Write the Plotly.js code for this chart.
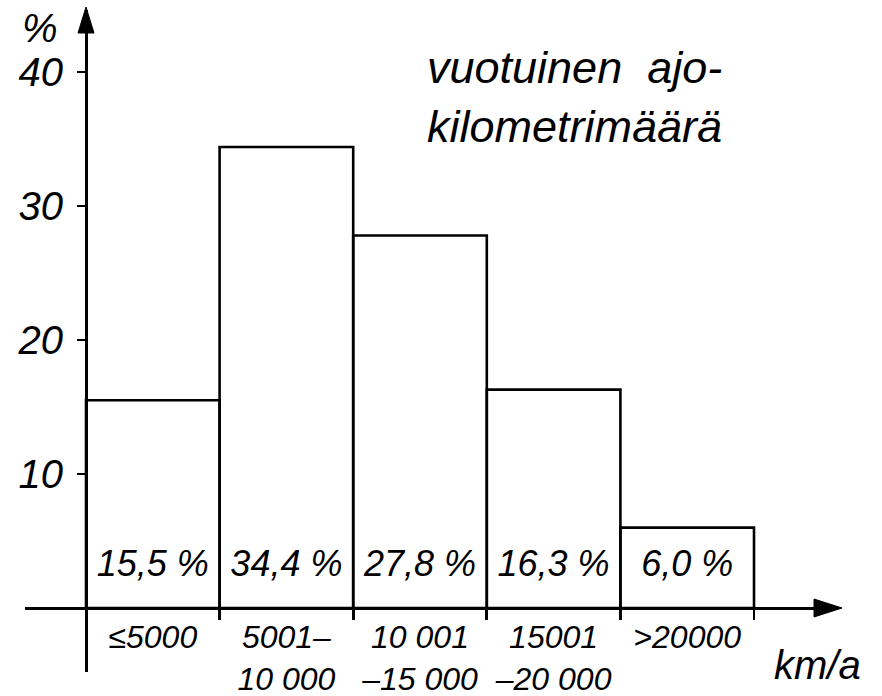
<!DOCTYPE html>
<html>
<head>
<meta charset="utf-8">
<script src="https://cdn.plot.ly/plotly-3.0.1.min.js"></script>
<style>html,body{margin:0;padding:0;background:#fff;}#chart{width:882px;height:696px;}</style>
</head>
<body>
<div id="chart"></div>
<script>
// ---- data ----
const categories = ["≤5000", "5001–<br>10 000", "10 001<br>–15 000", "15001<br>–20 000", ">20000"];
const shares = [15.5, 34.4, 27.8, 16.3, 6.0];
const shareLabels = shares.map(v => v.toFixed(1).replace('.', ',') + ' %');
const yTickValues = [10, 20, 30, 40];
const yTickLabels = ["10", "20", "30", "40"];
const titleText = "vuotuinen&nbsp; ajo-<br>kilometrimäärä";
const yUnit = "%";
const xUnit = "km/a";

// ---- style ----
const FONT = "Liberation Sans, Arial, sans-serif";
const INK = "#000";
const W = 882, H = 696;
const M = {l: 25, r: 52, t: 10, b: 24};
const plotW = W - M.l - M.r, plotH = H - M.t - M.b;
const axisXpx = 86, axisYpx = 608, pxPerUnit = 13.4, pxPerCat = 133.6;
const yAxisPos = (axisXpx - M.l) / plotW;
const xAxisPos = (H - M.b - axisYpx) / plotH;
const yRange = [-(H - M.b - axisYpx) / pxPerUnit, (axisYpx - M.t) / pxPerUnit];
const xRange = [-0.5 - (axisXpx - M.l) / pxPerCat, -0.5 + (W - M.r - axisXpx) / pxPerCat];

const bars = {
  type: 'bar',
  x: categories,
  y: shares,
  width: 1,
  marker: {color: 'rgba(255,255,255,0)', line: {color: INK, width: 2.6}},
  hoverinfo: 'skip'
};
const labels = {
  type: 'scatter',
  mode: 'text',
  x: categories,
  y: shares.map(() => 3.06),
  text: shareLabels,
  textposition: 'middle center',
  textfont: {family: FONT, size: 36, style: 'italic', color: INK},
  hoverinfo: 'skip',
  cliponaxis: false
};

const layout = {
  width: W, height: H,
  margin: M,
  paper_bgcolor: '#fff', plot_bgcolor: '#fff',
  showlegend: false,
  bargap: 0,
  xaxis: {
    type: 'category',
    range: xRange,
    anchor: 'free', position: xAxisPos,
    showline: true, linecolor: INK, linewidth: 2.6,
    showgrid: false, zeroline: false,
    ticks: 'outside', tickson: 'boundaries', ticklen: 10, tickwidth: 2.6, tickcolor: INK,
    tickangle: 0, automargin: false,
    tickfont: {family: FONT, size: 32, style: 'italic', color: INK},
    fixedrange: true
  },
  yaxis: {
    range: yRange,
    anchor: 'free', position: yAxisPos,
    showline: true, linecolor: INK, linewidth: 2.6,
    showgrid: false, zeroline: false,
    tickmode: 'array', tickvals: yTickValues, ticktext: yTickLabels,
    ticks: 'outside', ticklen: 8, tickwidth: 2.6, tickcolor: INK,
    ticklabelstandoff: 6, automargin: false,
    tickfont: {family: FONT, size: 40, style: 'italic', color: INK},
    fixedrange: true
  },
  shapes: [
    {type: 'path', xref: 'paper', yref: 'paper', xsizemode: 'pixel', ysizemode: 'pixel',
     xanchor: yAxisPos, yanchor: 1, path: 'M-8,-23 L0,3 L8,-23 Z',
     fillcolor: INK, line: {color: INK, width: 1}},
    {type: 'path', xref: 'paper', yref: 'paper', xsizemode: 'pixel', ysizemode: 'pixel',
     xanchor: 1, yanchor: xAxisPos, path: 'M-16,9 L12,0 L-16,-9 Z',
     fillcolor: INK, line: {color: INK, width: 1}}
  ],
  annotations: [
    {text: titleText, xref: 'paper', yref: 'paper', x: (425 - M.l) / plotW, y: (H - M.b - 40) / plotH,
     xanchor: 'left', yanchor: 'top', align: 'left', showarrow: false,
     font: {family: FONT, size: 45, style: 'italic', color: INK}},
    {text: yUnit, xref: 'paper', yref: 'paper', x: (40 - M.l) / plotW, y: (H - M.b - 28) / plotH,
     xanchor: 'center', yanchor: 'middle', showarrow: false,
     font: {family: FONT, size: 40, style: 'italic', color: INK}},
    {text: xUnit, xref: 'paper', yref: 'paper', x: (817 - M.l) / plotW, y: (H - M.b - 665) / plotH,
     xanchor: 'center', yanchor: 'middle', showarrow: false,
     font: {family: FONT, size: 40, style: 'italic', color: INK}}
  ]
};

Plotly.newPlot('chart', [bars, labels], layout, {displayModeBar: false, staticPlot: true});
</script>
</body>
</html>
